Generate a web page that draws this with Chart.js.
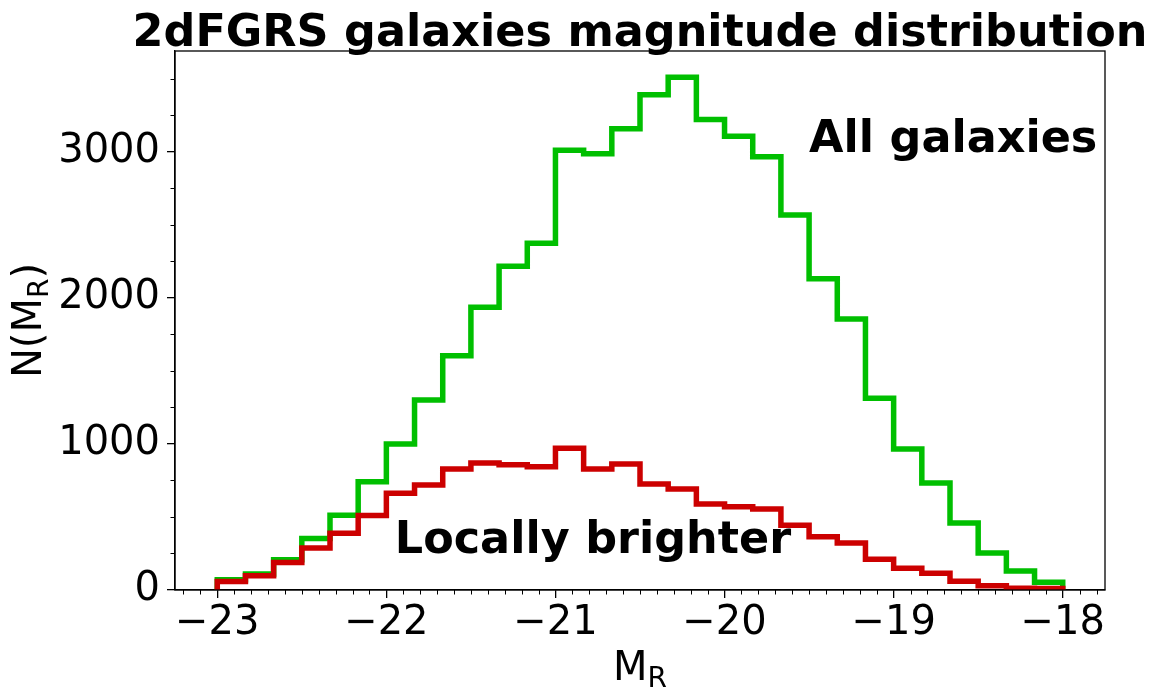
<!DOCTYPE html>
<html><head><meta charset="utf-8">
<script src="https://cdn.jsdelivr.net/npm/chart.js@4.4.0/dist/chart.umd.min.js"></script>
<style>html,body{margin:0;padding:0;background:#fff;}#wrap{width:1155px;height:697px;position:relative;}</style>
</head><body><div id="wrap"><canvas id="c" width="1155" height="697"></canvas></div>
<script>
// Histogram bins (M_R from -23 to -18, 30 bins)
const binLo = -23, binHi = -18, nBins = 30;
const allGalaxies = [70,110,207,353,512,741,1000,1301,1603,1936,2217,2374,3011,2986,3158,3391,3511,3221,3107,2966,2568,2130,1856,1313,966,733,459,253,130,53];
const locallyBrighter = [58,97,188,287,389,510,663,718,828,869,857,844,971,828,862,725,691,588,570,554,444,364,321,211,149,115,60,29,12,10];
const xTickValues = [-23,-22,-21,-20,-19,-18];
const yTickValues = [0,1000,2000,3000];
const titleText = '2dFGRS galaxies magnitude distribution';
const labelAll = 'All galaxies';
const labelLocal = 'Locally brighter';

const FONT = "'DejaVu Sans', sans-serif";

function stepPoints(vals){
  const w = (binHi - binLo) / nBins;
  const pts = [{x: binLo, y: 0}];
  vals.forEach((v, i) => pts.push({x: binLo + i * w, y: v}));
  pts.push({x: binHi, y: vals[vals.length - 1]});
  pts.push({x: binHi, y: 0});
  return pts;
}
function fmt(v){ return (v < 0 ? '\u2212' : '') + Math.abs(v); }

const decor = {
  id: 'decor',
  afterDraw(chart){
    const ctx = chart.ctx, a = chart.chartArea, xs = chart.scales.x, ys = chart.scales.y;
    ctx.save();
    // frame
    ctx.strokeStyle = '#000'; ctx.lineWidth = 1.3;
    ctx.strokeRect(a.left, a.top, a.right - a.left, a.bottom - a.top);
    // minor ticks
    ctx.lineWidth = 1;
    ctx.beginPath();
    for (let k = -232; k <= -178; k++) {
      if (k % 10 === 0) continue;
      const px = Math.round(xs.getPixelForValue(k / 10)) + 0.5;
      ctx.moveTo(px, a.bottom); ctx.lineTo(px, a.bottom + 4.5);
    }
    for (let v = 250; v < ys.max; v += 250) {
      if (v % 1000 === 0) continue;
      const py = Math.round(ys.getPixelForValue(v)) + 0.5;
      ctx.moveTo(a.left, py); ctx.lineTo(a.left - 4.5, py);
    }
    ctx.stroke();
    ctx.fillStyle = '#000';
    // title
    ctx.font = 'bold 44.5px ' + FONT;
    ctx.textAlign = 'center'; ctx.textBaseline = 'alphabetic';
    ctx.fillText(titleText, (a.left + a.right) / 2, 46);
    // annotations
    ctx.font = 'bold 44.5px ' + FONT;
    ctx.textAlign = 'left';
    ctx.fillText(labelAll, xs.getPixelForValue(-19.5), ys.getPixelForValue(3000));
    ctx.fillText(labelLocal, xs.getPixelForValue(-21.95), ys.getPixelForValue(250));
    // x axis label M_R
    const big = '40px ' + FONT, small = '28px ' + FONT;
    ctx.font = big; const wM = ctx.measureText('M').width;
    ctx.font = small; const wR = ctx.measureText('R').width;
    let x0 = (a.left + a.right) / 2 - (wM + wR) / 2;
    ctx.font = big; ctx.fillText('M', x0, 680);
    ctx.font = small; ctx.fillText('R', x0 + wM, 687);
    // y axis label N(M_R)
    ctx.save();
    ctx.translate(41, (a.top + a.bottom) / 2);
    ctx.rotate(-Math.PI / 2);
    ctx.font = big; const w1 = ctx.measureText('N(M').width, w3 = ctx.measureText(')').width;
    ctx.font = small; const w2 = ctx.measureText('R').width;
    let s = -(w1 + w2 + w3) / 2;
    ctx.font = big; ctx.fillText('N(M', s, 0);
    ctx.font = small; ctx.fillText('R', s + w1, 7);
    ctx.font = big; ctx.fillText(')', s + w1 + w2, 0);
    ctx.restore();
    ctx.restore();
  }
};

new Chart(document.getElementById('c'), {
  type: 'line',
  data: {
    datasets: [
      { label: labelLocal, data: stepPoints(locallyBrighter), borderColor: '#cc0000', borderWidth: 5.5, stepped: 'before', pointRadius: 0, fill: false, borderJoinStyle: 'miter', borderCapStyle: 'butt', order: 0 },
      { label: labelAll, data: stepPoints(allGalaxies), borderColor: '#00bf00', borderWidth: 5.5, stepped: 'before', pointRadius: 0, fill: false, borderJoinStyle: 'miter', borderCapStyle: 'butt', order: 1 }
    ]
  },
  options: {
    responsive: false, animation: false, devicePixelRatio: 1,
    layout: { padding: { top: 51, right: 50, left: 0, bottom: 0 } },
    plugins: { legend: { display: false }, tooltip: { enabled: false }, title: { display: false } },
    scales: {
      x: {
        type: 'linear', min: -23.25, max: -17.75,
        afterBuildTicks: s => { s.ticks = xTickValues.map(v => ({ value: v })); },
        afterFit: s => { s.height = 107; },
        ticks: { font: { family: FONT, size: 40 }, color: '#000', padding: 2, maxRotation: 0, autoSkip: false, callback: v => fmt(v) },
        grid: { display: true, drawOnChartArea: false, drawTicks: true, tickLength: 8, color: '#000', lineWidth: 1.3 },
        border: { display: true, color: '#000', width: 1.3 }
      },
      y: {
        type: 'linear', min: 0, max: 3690,
        afterBuildTicks: s => { s.ticks = yTickValues.map(v => ({ value: v })); },
        afterFit: s => { s.width = 175; },
        ticks: { font: { family: FONT, size: 40 }, color: '#000', padding: 7, autoSkip: false, callback: v => String(v) },
        grid: { display: true, drawOnChartArea: false, drawTicks: true, tickLength: 8, color: '#000', lineWidth: 1.3 },
        border: { display: true, color: '#000', width: 1.3 }
      }
    }
  },
  plugins: [decor]
});
</script></body></html>
